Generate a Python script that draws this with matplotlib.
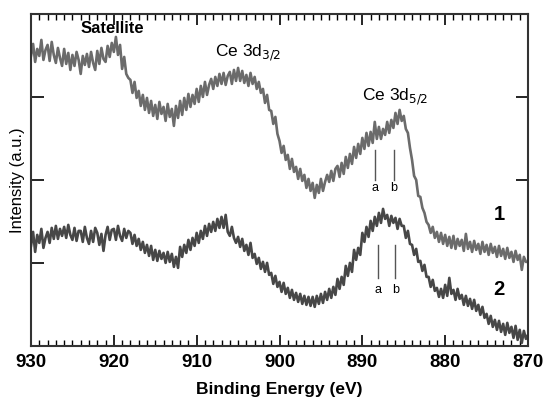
import numpy as np
import matplotlib
matplotlib.use("Agg")
import matplotlib.pyplot as plt
from matplotlib.ticker import MultipleLocator

plt.rcParams['font.family'] = ['Liberation Sans', 'DejaVu Sans']

# binding energy grid (eV), 0.25 eV steps from 930 down to 870
energy = np.arange(930, 869.99, -0.25)

# spectrum 1 (upper trace), intensity in arbitrary units
spec1 = [
    290, 302, 284, 297, 290, 306, 286, 296, 301, 285, 304, 291,
    283, 298, 288, 280, 297, 282, 293, 276, 291, 280, 294, 286,
    272, 290, 281, 292, 279, 294, 283, 276, 295, 282, 298, 287,
    284, 300, 289, 303, 294, 309, 291, 301, 277, 289, 272, 268,
    266, 253, 264, 248, 255, 240, 251, 236, 248, 233, 245, 230,
    241, 227, 244, 232, 239, 225, 242, 229, 237, 220, 240, 228,
    245, 231, 248, 236, 252, 239, 251, 242, 257, 244, 260, 249,
    264, 251, 261, 267, 257, 269, 260, 272, 262, 273, 261, 270,
    274, 262, 276, 265, 278, 265, 275, 263, 271, 260, 273, 262,
    269, 257, 264, 253, 257, 243, 251, 236, 235, 222, 229, 212,
    205, 193, 200, 186, 191, 177, 187, 174, 179, 167, 177, 165,
    171, 158, 167, 155, 163, 148, 161, 153, 167, 155, 164, 171,
    164, 175, 165, 177, 180, 169, 183, 172, 189, 178, 192, 182,
    199, 188, 202, 192, 208, 197, 213, 200, 214, 203, 224, 207,
    219, 207, 217, 211, 224, 213, 226, 218, 233, 222, 236, 225,
    230, 217, 213, 198, 186, 170, 166, 150, 149, 138, 133, 124,
    121, 113, 119, 108, 114, 104, 113, 102, 111, 100, 109, 98,
    110, 97, 107, 100, 106, 95, 112, 97, 104, 94, 105, 96,
    102, 92, 104, 94, 101, 91, 102, 93, 99, 89, 100, 90,
    97, 87, 98, 88, 94, 84, 95, 86, 91, 76, 89, 84,
    84,
]

# spectrum 2 (lower trace)
spec2 = [
    100, 114, 94, 111, 103, 117, 98, 108, 114, 103, 118, 107,
    120, 107, 117, 110, 119, 108, 121, 111, 106, 118, 105, 115,
    115, 104, 119, 108, 102, 115, 104, 118, 113, 101, 112, 95,
    111, 119, 106, 116, 117, 106, 120, 110, 105, 117, 108, 115,
    113, 102, 111, 100, 107, 96, 104, 93, 101, 90, 100, 86,
    96, 85, 95, 87, 93, 83, 94, 84, 92, 79, 89, 78,
    99, 89, 101, 93, 106, 96, 108, 100, 113, 103, 115, 107,
    120, 110, 122, 114, 124, 115, 127, 118, 129, 118, 131, 114,
    110, 119, 108, 103, 109, 99, 107, 95, 101, 91, 103, 88,
    92, 82, 88, 77, 84, 74, 83, 71, 73, 62, 70, 59,
    64, 54, 63, 52, 58, 48, 56, 46, 53, 44, 52, 42,
    50, 41, 49, 40, 49, 39, 50, 42, 52, 43, 54, 46,
    57, 48, 59, 51, 67, 57, 69, 61, 80, 70, 83, 74,
    96, 86, 98, 91, 113, 104, 119, 109, 125, 115, 129, 120,
    133, 123, 137, 127, 131, 120, 130, 123, 128, 117, 127, 120,
    120, 108, 115, 102, 101, 91, 97, 84, 85, 75, 81, 69,
    69, 59, 66, 55, 58, 49, 57, 48, 61, 50, 68, 52,
    56, 46, 57, 47, 51, 41, 50, 40, 47, 37, 46, 35,
    41, 31, 39, 28, 32, 22, 30, 19, 26, 16, 25, 14,
    22, 11, 23, 13, 19, 8, 20, 6, 16, 3, 15, 7,
    11,
]

# positions of the a / b component markers (eV)
marks1 = [888.5, 886.2]
marks2 = [888.1, 886.0]
mark_labels = ['a', 'b']

fig = plt.figure(figsize=(5.44, 3.98), dpi=100)
ax = fig.add_axes([0.057, 0.131, 0.9136, 0.834])

ax.plot(energy, spec1, color='#6b6b6b', lw=1.9)
ax.plot(energy, spec2, color='#474747', lw=1.9)

ax.set_xlim(930, 870)
ax.set_ylim(0, 332)

# a/b marker lines
for e, lab in zip(marks1, mark_labels):
    ax.plot([e, e], [166, 196], color='#555555', lw=1.0)
    ax.text(e, 158, lab, ha='center', va='center', fontsize=9)
for e, lab in zip(marks2, mark_labels):
    ax.plot([e, e], [68, 101], color='#555555', lw=1.0)
    ax.text(e, 56, lab, ha='center', va='center', fontsize=9)

ax.text(920.2, 317, 'Satellite', ha='center', va='center', fontsize=12, fontweight='bold')
ax.text(903.8, 293, r'Ce 3d$_{3/2}$', ha='center', va='center', fontsize=12.5)
ax.text(886.0, 249, r'Ce 3d$_{5/2}$', ha='center', va='center', fontsize=12.5)
ax.text(873.5, 131, '1', ha='center', va='center', fontsize=14.5, fontweight='bold')
ax.text(873.5, 56, '2', ha='center', va='center', fontsize=14.5, fontweight='bold')

ax.xaxis.set_major_locator(MultipleLocator(10))
ax.xaxis.set_minor_locator(MultipleLocator(1))
ax.tick_params(axis='x', which='major', direction='in', length=8, width=1.2,
               top=True, labelsize=13.5, pad=6)
ax.tick_params(axis='x', which='minor', direction='in', length=4, width=1.0, top=True)
for t in ax.get_xticklabels():
    t.set_fontweight('bold')

ax.set_yticks([83, 166, 249])
ax.tick_params(axis='y', direction='in', length=9, width=1.2, labelleft=False)
sec = ax.secondary_yaxis('right')
sec.set_yticks([166, 249])
sec.tick_params(direction='in', length=9, width=1.2, labelright=False)

for s in ax.spines.values():
    s.set_linewidth(1.5)
    s.set_color('#333333')
sec.spines['right'].set_visible(False)

ax.set_xlabel('Binding Energy (eV)', fontsize=12.5, fontweight='bold', labelpad=8)
ax.set_ylabel('Intensity (a.u.)', fontsize=12, labelpad=4)

fig.savefig('out.png', dpi=100)
